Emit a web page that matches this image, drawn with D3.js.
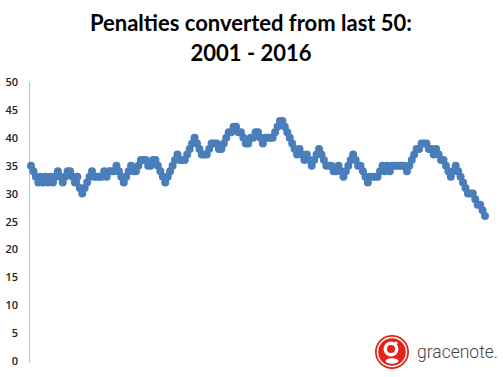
<!DOCTYPE html>
<html lang="en">
<head>
  <meta charset="UTF-8">
  <title>penalties converted</title>
  <style>
    body { margin: 0; background: #fff; }
    .title { font-family: Lato, "Open Sans", sans-serif; font-weight: bold; font-size: 22px; fill: #000; }
    .y.axis text { font-family: "Open Sans", sans-serif; font-size: 11px; font-weight: 600; fill: #222; }
  </style>
</head>
<body>
<script src="https://cdn.jsdelivr.net/npm/d3@7"></script>
<script>
  var titleLines = ["Penalties converted from last 50:", "2001 - 2016"];
  var yTicks = [0, 5, 10, 15, 20, 25, 30, 35, 40, 45, 50];

  // rolling count of penalties scored out of the last 50
  var converted = [
    35, 34, 33, 32, 33, 32, 33, 32, 33, 32, 33, 34, 33, 32, 33, 34, 34, 33, 32, 33,
    31, 30, 31, 32, 33, 34, 33, 33, 33, 33, 34, 33, 34, 34, 34, 35, 34, 33, 32, 33,
    34, 35, 34, 34, 35, 36, 36, 36, 35, 35, 36, 36, 35, 34, 33, 32, 33, 34, 35, 36,
    37, 36, 36, 36, 37, 38, 39, 40, 39, 38, 37, 37, 37, 38, 39, 39, 39, 38, 38, 39,
    40, 41, 41, 42, 42, 41, 41, 40, 39, 39, 40, 40, 41, 41, 40, 39, 40, 40, 40, 40,
    41, 42, 43, 43, 42, 41, 40, 39, 38, 37, 38, 37, 36, 37, 36, 35, 36, 37, 38, 37,
    36, 35, 35, 35, 34, 34, 35, 34, 33, 34, 35, 36, 37, 36, 35, 35, 34, 33, 32, 33,
    33, 33, 33, 34, 35, 34, 35, 34, 35, 35, 35, 35, 35, 35, 34, 35, 36, 37, 38, 38,
    39, 39, 39, 38, 38, 37, 38, 37, 36, 36, 35, 34, 33, 34, 35, 34, 33, 32, 31, 30,
    30, 30, 29, 28, 28, 27, 26
  ];

  var width = 503, height = 377;
  var plot = {left: 31, right: 485, top: 82, bottom: 361};

  var svg = d3.select("body").append("svg")
    .attr("width", width)
    .attr("height", height);

  var xScale = d3.scaleLinear()
    .domain([0, converted.length - 1])
    .range([plot.left, plot.right]);
  var yScale = d3.scaleLinear()
    .domain([0, 50])
    .range([plot.bottom, plot.top]);

  svg.selectAll(".title")
    .data(titleLines)
    .enter().append("text")
    .attr("class", "title")
    .attr("x", 251)
    .attr("y", function(d, i) { return 31 + i * 30; })
    .attr("text-anchor", "middle")
    .text(function(d) { return d; });

  var yAxis = svg.append("g")
    .attr("class", "y axis")
    .attr("transform", "translate(29,0)")
    .call(d3.axisLeft(yScale).tickValues(yTicks).tickSize(0).tickPadding(11));

  yAxis.select(".domain")
    .attr("stroke", "#bfbfbf")
    .attr("d", "M0.5," + plot.top + "V" + (plot.bottom + 2));

  var line = d3.line()
    .x(function(d, i) { return xScale(i); })
    .y(function(d) { return yScale(d); });

  svg.append("path")
    .datum(converted)
    .attr("fill", "none")
    .attr("stroke", "#4a7ebb")
    .attr("stroke-width", 3)
    .attr("d", line);

  svg.selectAll(".dot")
    .data(converted)
    .enter().append("circle")
    .attr("class", "dot")
    .attr("cx", function(d, i) { return xScale(i); })
    .attr("cy", function(d) { return yScale(d); })
    .attr("r", 4)
    .attr("fill", "#4a7ebb");

  // gracenote logo
  var logo = svg.append("g").attr("transform", "translate(392,352)");
  logo.append("circle").attr("r", 17).attr("fill", "#e2231a");
  logo.append("circle").attr("r", 14.5).attr("fill", "none").attr("stroke", "#fff").attr("stroke-width", 1.4);
  logo.append("circle").attr("cx", -1).attr("cy", -3).attr("r", 7.5).attr("fill", "#fff");
  logo.append("circle").attr("cx", -1).attr("cy", -3).attr("r", 4).attr("fill", "#e2231a");
  logo.append("circle").attr("cx", 4).attr("cy", -9).attr("r", 1.6).attr("fill", "#fff");
  logo.append("ellipse").attr("cx", 0).attr("cy", 9).attr("rx", 6.5).attr("ry", 2.8).attr("fill", "#fff");
  svg.append("text")
    .attr("x", 417)
    .attr("y", 358)
    .attr("font-family", "Roboto, sans-serif")
    .attr("font-weight", 300)
    .attr("font-size", 17.5)
    .attr("fill", "#444")
    .text("gracenote.");
</script>
</body>
</html>
